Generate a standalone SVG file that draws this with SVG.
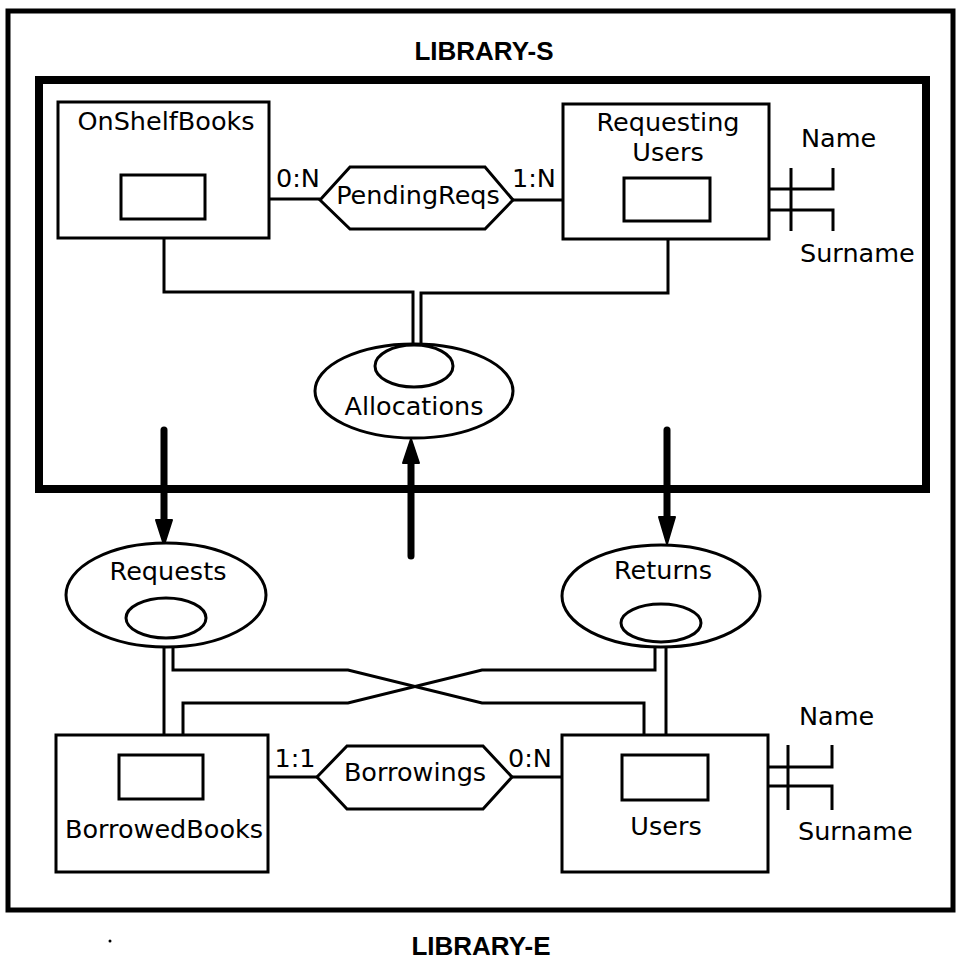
<svg xmlns="http://www.w3.org/2000/svg" width="959" height="962" viewBox="0 0 959 962">
<style>
.ln{fill:none;stroke:#000;stroke-width:3;stroke-linejoin:miter}
.box{fill:#fff;stroke:#000;stroke-width:3}
.t{font-family:"DejaVu Sans","Liberation Sans",sans-serif;font-size:25.5px;fill:#000}
.tb{font-family:"Liberation Sans","Arial",sans-serif;font-weight:bold;font-size:26px;fill:#000}
.arr{fill:none;stroke:#000;stroke-width:7;stroke-linecap:round}
.head{fill:#000;stroke:#000;stroke-width:2;stroke-linejoin:round}
</style>
<rect width="959" height="962" fill="#fff"/>
<g id="library-e-frame">
<rect x="8" y="11" width="945" height="899" fill="none" stroke="#000" stroke-width="5"/>
<text class="tb" x="481" y="955" text-anchor="middle">LIBRARY-E</text>
</g>
<g id="library-s-frame">
<rect x="39" y="80" width="887" height="409" fill="none" stroke="#000" stroke-width="8"/>
<text class="tb" x="484" y="60" text-anchor="middle">LIBRARY-S</text>
</g>
<g id="connectors">
<path class="ln" d="M205 199 H320"/>
<path class="ln" d="M513 200 H624"/>
<path class="ln" d="M164 219 V292 H413 V345"/>
<path class="ln" d="M668 221 V293 H421 V345"/>
<path class="ln" d="M710 189 H833 V168 M710 210 H833 V231 M791 168 V231"/>
<path class="ln" d="M203 777 H318"/>
<path class="ln" d="M512 777 H622"/>
<path class="ln" d="M164 638 V755"/>
<path class="ln" d="M173 640 V670 H348 L482 703 H644 V755"/>
<path class="ln" d="M183 755 V703 H348 L482 670 H655 V642"/>
<path class="ln" d="M666 642 V755"/>
<path class="ln" d="M708 767 H832 V745 M708 786 H832 V810 M788 745 V810"/>
<path class="arr" d="M164 430 V522"/>
<polygon class="head" points="156,520 172,520 164,545"/>
<path class="arr" d="M411 556 V462"/>
<polygon class="head" points="403,463 419,463 411,439"/>
<path class="arr" d="M667 430 V518"/>
<polygon class="head" points="659,517 675,517 667,544"/>
</g>
<g id="OnShelfBooks">
<rect class="box" x="58" y="102" width="211" height="136"/>
<text class="t" x="166" y="130" text-anchor="middle">OnShelfBooks</text>
<rect class="box" x="121" y="175" width="84" height="44"/>
</g>
<g id="PendingReqs">
<polygon class="box" points="320,200 350,167 485,167 513,200 485,229 350,229"/>
<text class="t" x="418" y="204" text-anchor="middle">PendingReqs</text>
<text class="t" x="298" y="187" text-anchor="middle">0:N</text>
<text class="t" x="534" y="187" text-anchor="middle">1:N</text>
</g>
<g id="RequestingUsers">
<rect class="box" x="563" y="104" width="206" height="135"/>
<text class="t" x="668" y="131" text-anchor="middle">Requesting</text>
<text class="t" x="668" y="161" text-anchor="middle">Users</text>
<rect class="box" x="624" y="178" width="86" height="43"/>
<text class="t" x="801" y="147">Name</text>
<text class="t" x="800" y="262">Surname</text>
</g>
<g id="Allocations">
<ellipse class="box" cx="414" cy="391" rx="99" ry="47"/>
<ellipse class="box" cx="414" cy="366" rx="39" ry="21"/>
<text class="t" x="414" y="415" text-anchor="middle">Allocations</text>
</g>
<g id="Requests">
<ellipse class="box" cx="166" cy="595" rx="100" ry="52"/>
<ellipse class="box" cx="166" cy="618" rx="40" ry="20"/>
<text class="t" x="168" y="580" text-anchor="middle">Requests</text>
</g>
<g id="Returns">
<ellipse class="box" cx="661" cy="596" rx="99" ry="51"/>
<ellipse class="box" cx="661" cy="623" rx="40" ry="19"/>
<text class="t" x="663" y="579" text-anchor="middle">Returns</text>
</g>
<g id="BorrowedBooks">
<rect class="box" x="56" y="735" width="212" height="137"/>
<rect class="box" x="119" y="755" width="84" height="44"/>
<text class="t" x="164" y="838" text-anchor="middle">BorrowedBooks</text>
</g>
<g id="Borrowings">
<polygon class="box" points="317,777 347,746 483,746 512,777 483,809 347,809"/>
<text class="t" x="415" y="781" text-anchor="middle">Borrowings</text>
<text class="t" x="295" y="767" text-anchor="middle">1:1</text>
<text class="t" x="530" y="767" text-anchor="middle">0:N</text>
</g>
<g id="Users">
<rect class="box" x="562" y="735" width="206" height="137"/>
<rect class="box" x="622" y="755" width="86" height="45"/>
<text class="t" x="666" y="835" text-anchor="middle">Users</text>
<text class="t" x="799" y="725">Name</text>
<text class="t" x="798" y="840">Surname</text>
</g>
<circle cx="110" cy="941" r="1.5" fill="#000"/>
</svg>
